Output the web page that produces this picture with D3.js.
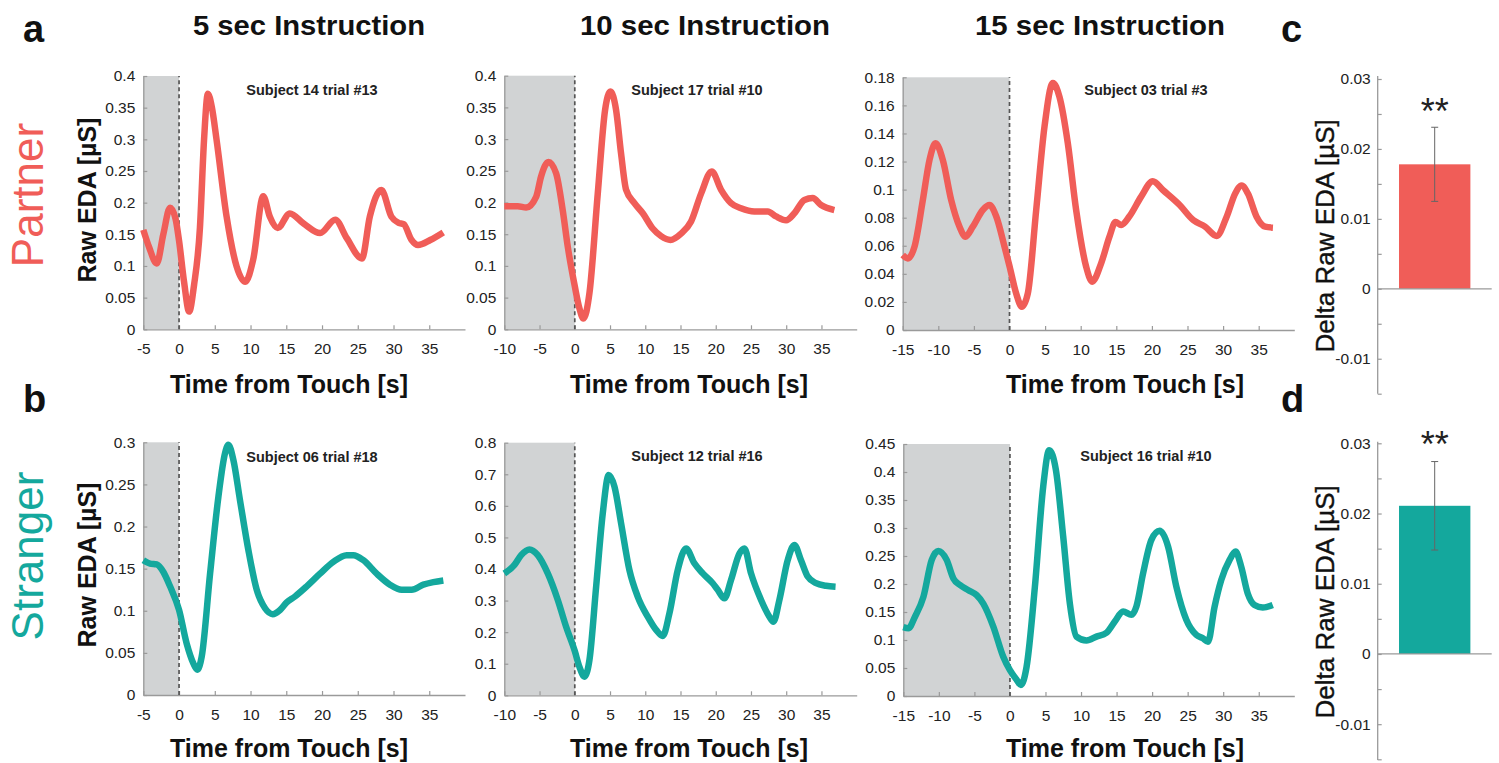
<!DOCTYPE html>
<html><head><meta charset="utf-8">
<script src="https://cdn.jsdelivr.net/npm/d3@7"></script>
<style>body{margin:0;background:#fff} svg{display:block}</style>
</head><body>
<svg id="c" width="1499" height="763"></svg>
<script>
// ---------- DATA ----------
const instructionTitles = ["5 sec Instruction", "10 sec Instruction", "15 sec Instruction"];
const groups = ["Partner", "Stranger"];
const subjectLabels = ["Subject 14 trial #13", "Subject 17 trial #10", "Subject 03 trial #3",
                       "Subject 06 trial #18", "Subject 12 trial #16", "Subject 16 trial #10"];

// Partner, 5 s
const p5Time = [-5, -4.2, -3.12, -2.2, -1.26, -0.5, 0, 0.7, 1.41, 2.1, 2.92, 3.5, 4.03, 4.6, 5.24, 6.65, 8.06, 9.26, 10.37, 11.78, 12.69, 13.8, 15.5, 17.42, 19.74, 21.85, 23.46, 25.58, 26.69, 28.3, 29.7, 30.71, 31.42, 32.53, 33.43, 35.14, 36.96];
const p5EDA  = [0.157, 0.13, 0.104, 0.15, 0.192, 0.175, 0.14, 0.075, 0.028, 0.07, 0.16, 0.3, 0.372, 0.35, 0.30, 0.178, 0.099, 0.075, 0.11, 0.21, 0.178, 0.16, 0.183, 0.167, 0.152, 0.173, 0.144, 0.112, 0.178, 0.22, 0.178, 0.168, 0.166, 0.141, 0.133, 0.141, 0.153];
// Partner, 10 s
const p10Time = [-10, -8.09, -6.9, -5.48, -4.78, -3.74, -2.65, -1.7, -0.99, 0, 0.66, 1.23, 2.08, 3.26, 4.3, 5.06, 5.86, 6.57, 7.28, 8.46, 9.65, 11.06, 12.25, 13.57, 15.08, 16.5, 17.92, 19.43, 20.76, 22.17, 23.59, 25.48, 27.38, 28.56, 29.98, 31.16, 32.58, 33.76, 34.94, 36.83];
const p10EDA  = [0.194, 0.194, 0.192, 0.209, 0.241, 0.264, 0.246, 0.187, 0.13, 0.068, 0.033, 0.017, 0.057, 0.214, 0.346, 0.375, 0.346, 0.277, 0.22, 0.199, 0.183, 0.159, 0.147, 0.141, 0.151, 0.17, 0.214, 0.249, 0.22, 0.199, 0.191, 0.186, 0.186, 0.178, 0.172, 0.183, 0.204, 0.207, 0.196, 0.188];
// Partner, 15 s
const p15Time = [-15, -14.28, -13.34, -12.17, -11.24, -10.39, -9.36, -8.19, -7.02, -6.18, -5.15, -3.75, -2.81, -1.87, -0.7, 0, 0.94, 1.73, 2.57, 3.75, 4.92, 6.09, 7.02, 8.19, 9.36, 10.77, 11.61, 12.87, 14.04, 14.89, 15.68, 16.85, 18.49, 20.13, 21.54, 23.9, 25.8, 27.46, 29.1, 30.5, 31.7, 32.6, 33.5, 34.7, 35.9, 37.0];
const p15EDA  = [0.0534, 0.051, 0.0594, 0.0926, 0.121, 0.133, 0.121, 0.0926, 0.0736, 0.0665, 0.0736, 0.0855, 0.089, 0.081, 0.0594, 0.0455, 0.026, 0.0166, 0.026, 0.0855, 0.145, 0.176, 0.166, 0.133, 0.0855, 0.045, 0.0344, 0.0475, 0.0665, 0.077, 0.0748, 0.081, 0.095, 0.106, 0.0997, 0.089, 0.0783, 0.0736, 0.067, 0.0807, 0.0973, 0.103, 0.097, 0.0807, 0.0736, 0.0729];
// Stranger, 5 s
const s5Time = [-5, -4.06, -3.12, -2.19, -1.26, 0, 1.07, 2.0, 2.56, 3.17, 4.34, 5.5, 6.43, 6.9, 7.6, 8.53, 9.7, 10.86, 12.03, 13.1, 14.13, 15.06, 16.22, 17.86, 19.72, 21.58, 23.45, 24.38, 25.78, 27.65, 29.5, 31.14, 32.54, 34.17, 35.57, 36.97];
const s5EDA  = [0.16, 0.156, 0.155, 0.146, 0.129, 0.101, 0.061, 0.0376, 0.03, 0.0455, 0.144, 0.235, 0.287, 0.297, 0.279, 0.231, 0.172, 0.125, 0.103, 0.096, 0.101, 0.11, 0.117, 0.129, 0.144, 0.158, 0.166, 0.166, 0.16, 0.144, 0.131, 0.125, 0.125, 0.131, 0.134, 0.136];
// Stranger, 10 s
const s10Time = [-10, -8.56, -7.61, -6.43, -5.25, -3.83, -2.41, -1.23, 0, 0.66, 1.37, 2.08, 3.03, 3.97, 4.82, 5.63, 6.57, 7.75, 8.94, 10.35, 11.54, 12.48, 13.43, 14.61, 15.79, 16.97, 18.16, 19.57, 20.28, 21.23, 22.17, 23.36, 24.07, 25.01, 26.43, 27.61, 28.18, 29.03, 30.21, 31.16, 32.1, 33.05, 34.23, 35.65, 37.0];
const s10EDA  = [0.386, 0.413, 0.444, 0.462, 0.444, 0.386, 0.302, 0.217, 0.14, 0.09, 0.059, 0.112, 0.344, 0.576, 0.698, 0.661, 0.545, 0.397, 0.312, 0.249, 0.207, 0.188, 0.26, 0.397, 0.465, 0.418, 0.386, 0.355, 0.334, 0.307, 0.365, 0.449, 0.465, 0.386, 0.302, 0.249, 0.233, 0.302, 0.428, 0.476, 0.428, 0.376, 0.355, 0.347, 0.344];
// Stranger, 15 s
const s15Time = [-15, -14.28, -13.34, -12.17, -11.0, -10.07, -8.9, -7.96, -7.02, -5.85, -4.68, -3.75, -2.34, -0.94, 0, 0.94, 1.54, 2.34, 3.51, 4.68, 5.52, 6.46, 7.49, 8.43, 9.36, 10.77, 12.17, 13.58, 14.75, 15.92, 17.09, 17.79, 18.73, 19.9, 21.07, 22.24, 23.41, 24.81, 26.22, 27.15, 27.86, 28.78, 29.72, 30.9, 31.73, 32.53, 33.45, 34.4, 35.56, 36.97];
const s15EDA  = [0.123, 0.121, 0.142, 0.177, 0.243, 0.259, 0.243, 0.21, 0.198, 0.189, 0.18, 0.165, 0.124, 0.070, 0.046, 0.029, 0.0196, 0.052, 0.195, 0.374, 0.439, 0.404, 0.285, 0.165, 0.106, 0.099, 0.106, 0.113, 0.133, 0.151, 0.145, 0.16, 0.219, 0.279, 0.295, 0.267, 0.195, 0.136, 0.109, 0.103, 0.097, 0.159, 0.207, 0.243, 0.258, 0.231, 0.183, 0.1625, 0.158, 0.1625];

// Tick values
const xTicks5  = [-5, 0, 5, 10, 15, 20, 25, 30, 35];
const xTicks10 = [-10, -5, 0, 5, 10, 15, 20, 25, 30, 35];
const xTicks15 = [-15, -10, -5, 0, 5, 10, 15, 20, 25, 30, 35];
const yTicksP5  = [0, 0.05, 0.1, 0.15, 0.2, 0.25, 0.3, 0.35, 0.4];
const yTicksP10 = [0, 0.05, 0.1, 0.15, 0.2, 0.25, 0.3, 0.35, 0.4];
const yTicksP15 = [0, 0.02, 0.04, 0.06, 0.08, 0.1, 0.12, 0.14, 0.16, 0.18];
const yTicksS5  = [0, 0.05, 0.1, 0.15, 0.2, 0.25, 0.3];
const yTicksS10 = [0, 0.1, 0.2, 0.3, 0.4, 0.5, 0.6, 0.7, 0.8];
const yTicksS15 = [0, 0.05, 0.1, 0.15, 0.2, 0.25, 0.3, 0.35, 0.4, 0.45];
const barYTicks = [-0.01, 0, 0.01, 0.02, 0.03];
const barMinorTicks = [-0.015, -0.01, -0.005, 0, 0.005, 0.01, 0.015, 0.02, 0.025, 0.03];

// Bar values (mean, standard error)
const deltaMean = [0.0178, 0.0211];
const deltaErr  = [0.0053, 0.0063];

// ---------- DRAWING ----------
const RED = "#f05d58", TEAL = "#14a89d";
const svg = d3.select("#c");
const tickFont = "'Liberation Sans', Arial, sans-serif";
const fmt = v => String(+v.toFixed(4));

const panels = [
  {t:p5Time,  v:p5EDA,  xd:[-5,40],  yd:[0,0.4],  xt:xTicks5,  yt:yTicksP5,  xr:[143.3,465],   yr:[329.3,76],   col:RED,  lab:subjectLabels[0], lx:312,  ly:95},
  {t:p10Time, v:p10EDA, xd:[-10,40], yd:[0,0.4],  xt:xTicks10, yt:yTicksP10, xr:[504.3,856.7], yr:[329.3,75.7], col:RED,  lab:subjectLabels[1], lx:697,  ly:95},
  {t:p15Time, v:p15EDA, xd:[-15,40], yd:[0,0.18], xt:xTicks15, yt:yTicksP15, xr:[902.7,1294.3],yr:[330,77.3],   col:RED,  lab:subjectLabels[2], lx:1146, ly:95},
  {t:s5Time,  v:s5EDA,  xd:[-5,40],  yd:[0,0.3],  xt:xTicks5,  yt:yTicksS5,  xr:[143.3,465],   yr:[695,442.3],  col:TEAL, lab:subjectLabels[3], lx:312,  ly:462},
  {t:s10Time, v:s10EDA, xd:[-10,40], yd:[0,0.8],  xt:xTicks10, yt:yTicksS10, xr:[504.3,856.7], yr:[695.3,442.7],col:TEAL, lab:subjectLabels[4], lx:697,  ly:461},
  {t:s15Time, v:s15EDA, xd:[-15,40], yd:[0,0.45], xt:xTicks15, yt:yTicksS15, xr:[903.3,1294.3],yr:[696,444],    col:TEAL, lab:subjectLabels[5], lx:1146, ly:461},
];

function styleAxis(g) {
  g.selectAll("path.domain").attr("stroke", "#9a9a9a").attr("stroke-width", 1.3);
  g.selectAll(".tick line").attr("stroke", "#9a9a9a").attr("stroke-width", 1.2);
  g.selectAll(".tick text").attr("fill", "#222").attr("font-size", 15.5).attr("font-family", tickFont);
}

panels.forEach(p => {
  const x = d3.scaleLinear().domain(p.xd).range(p.xr);
  const y = d3.scaleLinear().domain(p.yd).range(p.yr);
  const g = svg.append("g");
  g.append("rect")
    .attr("x", x(p.xd[0])).attr("width", x(0) - x(p.xd[0]))
    .attr("y", y(p.yd[1])).attr("height", y(p.yd[0]) - y(p.yd[1]))
    .attr("fill", "#d1d3d4");
  const gx = g.append("g").attr("transform", `translate(0,${y(p.yd[0])})`)
    .call(d3.axisBottom(x).tickValues(p.xt).tickFormat(fmt).tickSizeInner(-4).tickSizeOuter(0).tickPadding(14));
  styleAxis(gx);
  const gy = g.append("g").attr("transform", `translate(${x(p.xd[0])},0)`)
    .call(d3.axisLeft(y).tickValues(p.yt).tickFormat(fmt).tickSizeInner(-4).tickSizeOuter(0).tickPadding(8));
  styleAxis(gy);
  g.append("line").attr("x1", x(0)).attr("x2", x(0)).attr("y1", y(p.yd[0])).attr("y2", y(p.yd[1]))
    .attr("stroke", "#555").attr("stroke-width", 1.7).attr("stroke-dasharray", "4,3");
  const pts = p.t.map((t, i) => [t, p.v[i]]);
  g.append("path").datum(pts)
    .attr("d", d3.line().x(d => x(d[0])).y(d => y(d[1])).curve(d3.curveMonotoneX))
    .attr("fill", "none").attr("stroke", p.col).attr("stroke-width", 6.5)
    .attr("stroke-linejoin", "round").attr("stroke-linecap", "butt");
  g.append("text").attr("x", p.lx).attr("y", p.ly).attr("text-anchor", "middle")
    .attr("font-family", tickFont).attr("font-weight", "bold").attr("font-size", 14.5).attr("fill", "#222")
    .text(p.lab);
});

// Bar panels
const bars = [
  {m:deltaMean[0], e:deltaErr[0], col:RED,  yr:[393.7,79],    ay:[76,393.7], starY:124},
  {m:deltaMean[1], e:deltaErr[1], col:TEAL, yr:[759.3,443.3], ay:[441.7,760], starY:457},
];
bars.forEach((b, i) => {
  const y = d3.scaleLinear().domain([-0.015, 0.03]).range(b.yr);
  const x = d3.scaleBand().domain([groups[i]]).range([1377.7, 1491.7]).paddingInner(0.23).paddingOuter(0.23);
  const g = svg.append("g");
  g.append("rect").attr("x", x(groups[i])).attr("width", x.bandwidth())
    .attr("y", y(b.m)).attr("height", y(0) - y(b.m)).attr("fill", b.col);
  g.append("line").attr("x1", 1377.7).attr("x2", 1491.7).attr("y1", y(0)).attr("y2", y(0))
    .attr("stroke", "#9a9a9a").attr("stroke-width", 1.3);
  const gy = g.append("g").attr("transform", `translate(1377.7,0)`)
    .call(d3.axisLeft(y).tickValues(barMinorTicks).tickFormat(v => barYTicks.some(t => Math.abs(t - v) < 1e-9) ? fmt(v) : "")
      .tickSizeInner(-4).tickSizeOuter(0).tickPadding(7));
  styleAxis(gy);
  gy.select("path.domain").attr("d", `M0,${b.ay[0]}V${b.ay[1]}`);
  gy.selectAll(".tick text").attr("font-size", 15.5);
  const cx = x(groups[i]) + x.bandwidth() / 2;
  g.append("line").attr("x1", cx).attr("x2", cx).attr("y1", y(b.m + b.e)).attr("y2", y(b.m - b.e))
    .attr("stroke", "#666").attr("stroke-width", 1);
  [b.m + b.e, b.m - b.e].forEach(v => g.append("line").attr("x1", cx - 3.5).attr("x2", cx + 3.5)
    .attr("y1", y(v)).attr("y2", y(v)).attr("stroke", "#666").attr("stroke-width", 1));
  g.append("text").attr("x", cx).attr("y", b.starY).attr("text-anchor", "middle")
    .attr("font-family", tickFont).attr("font-size", 36).attr("fill", "#222").text("**");
  g.append("text").attr("transform", `translate(1334,${(b.ay[0] + b.ay[1]) / 2 + 1}) rotate(-90)`)
    .attr("text-anchor", "middle").attr("font-family", tickFont).attr("font-size", 26).attr("fill", "#111")
    .attr("stroke", "#111").attr("stroke-width", 0.4)
    .text("Delta Raw EDA [µS]");
});

// Titles and labels
const labelFont = "'Liberation Sans', Arial, sans-serif";
[309, 705, 1100].forEach((cx, i) => svg.append("text").attr("x", cx).attr("y", 35).attr("text-anchor", "middle")
  .attr("font-family", labelFont).attr("font-weight", "bold").attr("font-size", 28).attr("fill", "#111")
  .attr("textLength", i === 0 ? 232 : 250).attr("lengthAdjust", "spacingAndGlyphs").text(instructionTitles[i]));
[[289, 393], [689, 393], [1125, 393], [289, 757], [689, 757], [1125, 757]].forEach(([cx, cy]) =>
  svg.append("text").attr("x", cx).attr("y", cy).attr("text-anchor", "middle")
    .attr("font-family", labelFont).attr("font-weight", "bold").attr("font-size", 25).attr("fill", "#111").text("Time from Touch [s]"));
[200, 565].forEach(cy => svg.append("text").attr("transform", `translate(96,${cy}) rotate(-90)`)
  .attr("text-anchor", "middle").attr("font-family", labelFont).attr("font-weight", "bold").attr("font-size", 25)
  .attr("fill", "#111").text("Raw EDA [µS]"));
[[groups[0], 195, RED], [groups[1], 556, TEAL]].forEach(([t, cy, c]) =>
  svg.append("text").attr("transform", `translate(43,${cy}) rotate(-90)`).attr("text-anchor", "middle")
    .attr("font-family", labelFont).attr("font-size", 44).attr("fill", c).text(t));
[["a", 23, 42], ["b", 23, 412], ["c", 1281, 42], ["d", 1281, 412]].forEach(([t, x0, y0]) =>
  svg.append("text").attr("x", x0).attr("y", y0).attr("font-family", labelFont).attr("font-weight", "bold")
    .attr("font-size", 38).attr("fill", "#111").text(t));
</script>
</body></html>
